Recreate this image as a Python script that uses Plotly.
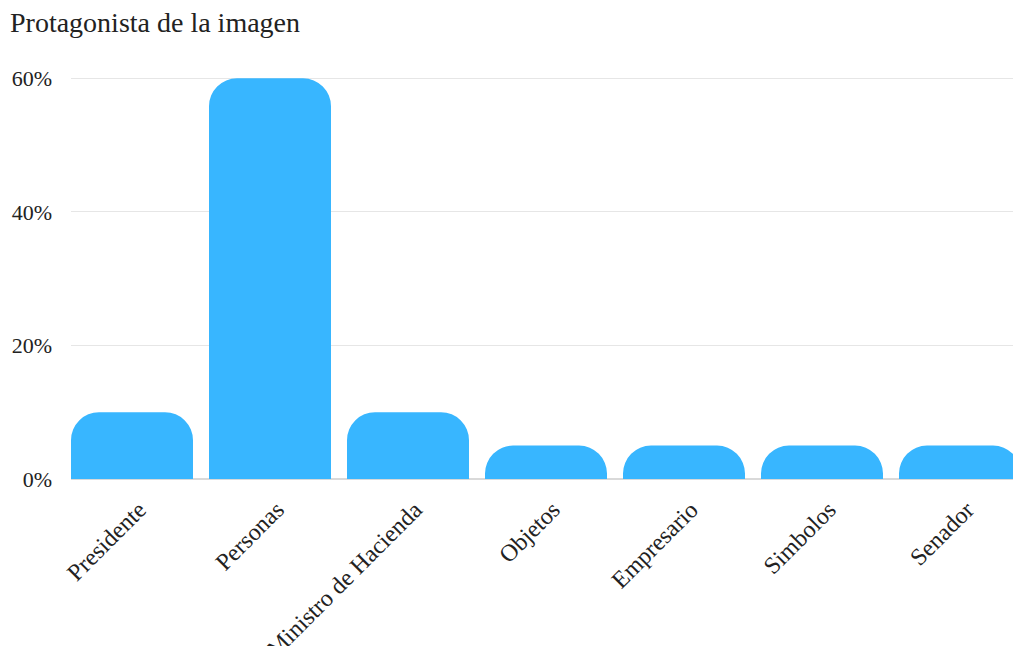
import plotly.graph_objects as go

categories = ["Presidente", "Personas", "Ministro de Hacienda", "Objetos", "Empresario", "Simbolos", "Senador"]
values = [10, 60, 10, 5, 5, 5, 5]
y_ticks = [0, 20, 40, 60]
y_tick_labels = ["0%", "20%", "40%", "60%"]

FONT = "Liberation Serif, Times New Roman, serif"

fig = go.Figure(go.Bar(
    x=categories,
    y=values,
    marker=dict(color="#38b6ff", line=dict(width=0), cornerradius=28),
    hoverinfo="skip",
))

fig.update_layout(
    width=1013,
    height=646,
    margin=dict(l=71, r=0, t=75, b=167),
    paper_bgcolor="white",
    plot_bgcolor="white",
    bargap=16 / 138,
    showlegend=False,
    font=dict(family=FONT, color="#222222"),
    title=dict(
        text="Protagonista de la imagen",
        x=10 / 1013, xanchor="left", xref="container",
        y=1 - 22 / 646, yanchor="middle", yref="container",
        font=dict(family=FONT, size=28, color="#222222"),
    ),
)

fig.update_xaxes(
    range=[-61 / 138, -61 / 138 + 942 / 138],
    tickangle=-45,
    tickfont=dict(family=FONT, size=24, color="#222222"),
    showgrid=False,
    showline=False,
    ticks="",
    ticklabelstandoff=11,
    ticklabelshift=7,
    automargin=False,
)

fig.update_yaxes(
    range=[0, 60.5],
    tickvals=y_ticks,
    ticktext=y_tick_labels,
    tickfont=dict(family=FONT, size=22, color="#222222"),
    showgrid=True,
    gridcolor="#e6e6e6",
    gridwidth=1,
    zeroline=True,
    zerolinecolor="#d9d9d9",
    zerolinewidth=2,
    showline=False,
    ticks="",
    ticklabelstandoff=18,
    automargin=False,
)

fig.write_html("out.html")
